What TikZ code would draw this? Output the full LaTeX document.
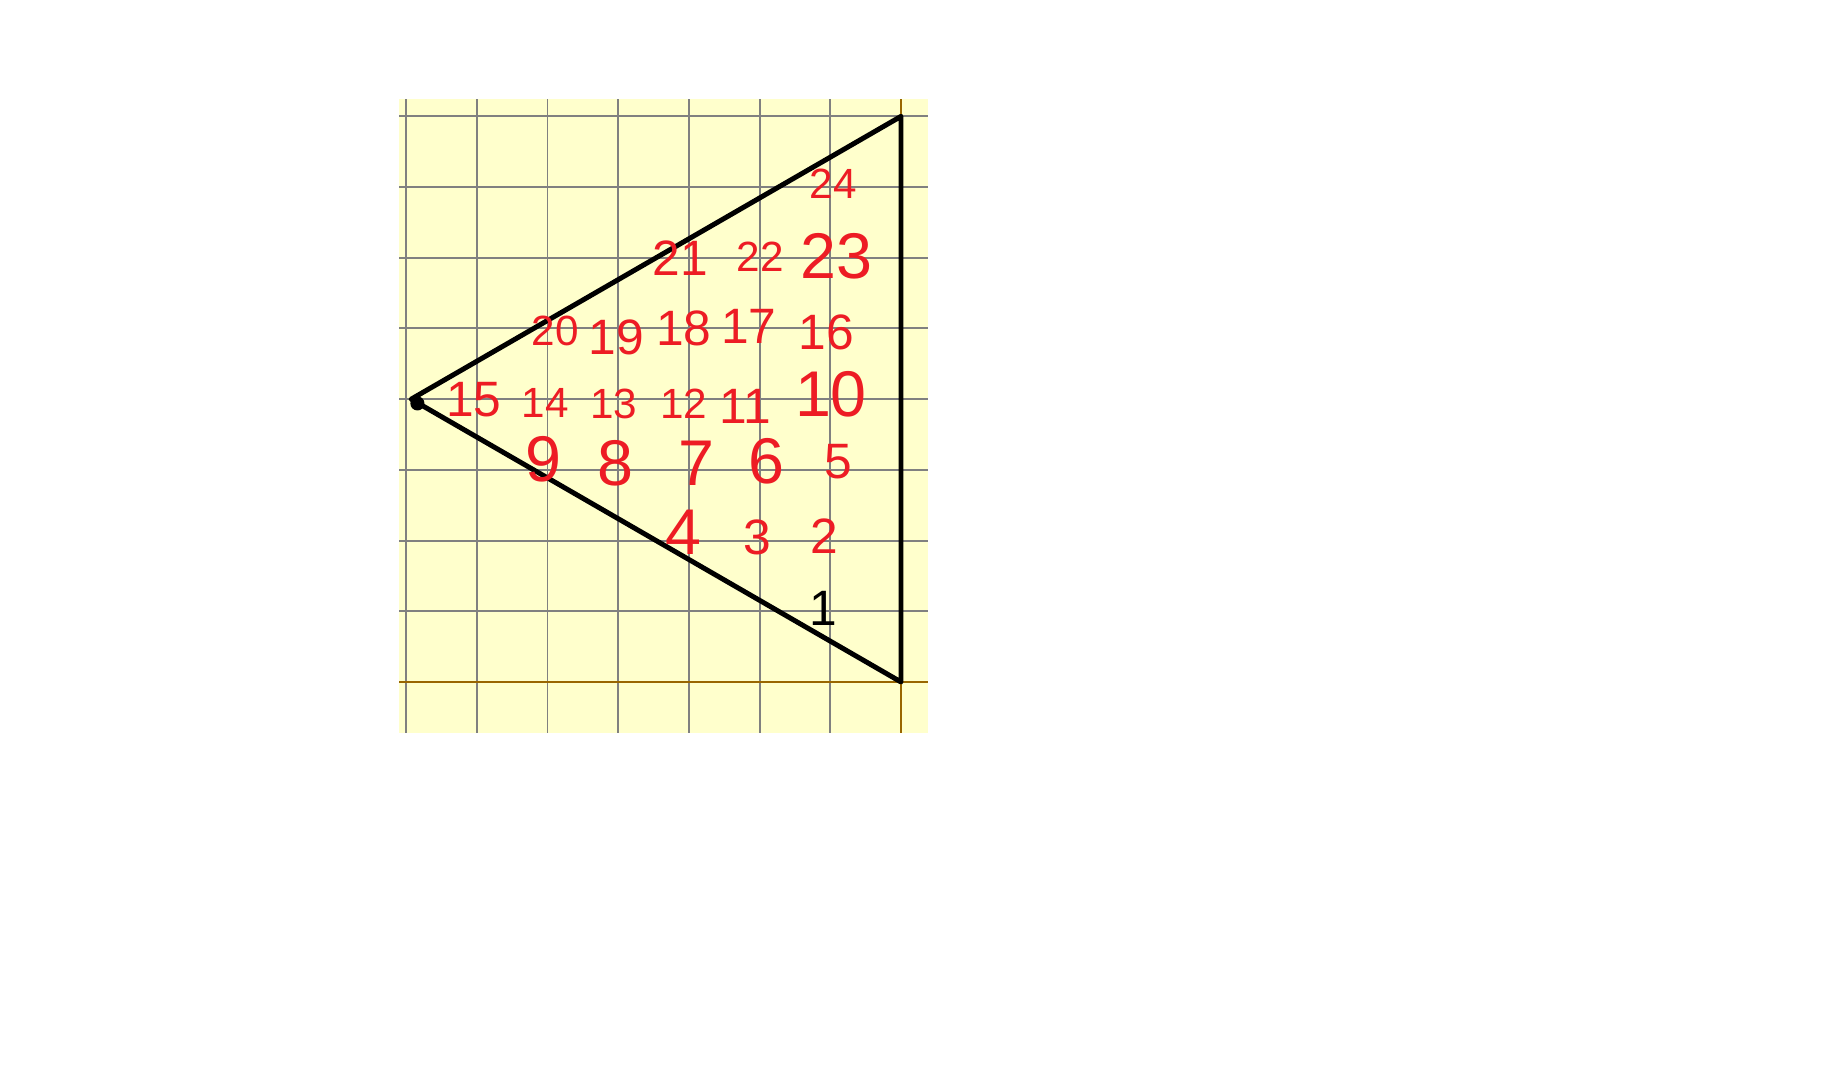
\documentclass[tikz,border=0pt]{standalone}
\usepackage{fontspec}
\setmainfont{Liberation Sans}
\usepackage{xcolor}
\usetikzlibrary{positioning}

\definecolor{paper}{HTML}{FFFFCC}
\definecolor{gridgray}{HTML}{808080}
\definecolor{axisbrown}{HTML}{996600}
\definecolor{inkred}{HTML}{ED1C24}

\tikzset{
  num/.style={text=inkred, inner sep=0pt, font=\fontsize{20}{24}\selectfont},
  small/.style={font=\fontsize{17}{20}\selectfont},
  big/.style={font=\fontsize{26}{30}\selectfont},
}

\begin{document}
\begin{tikzpicture}
	\useasboundingbox (-12.744,-5.545) rectangle (13.055,9.646);
	\fill[white] (-12.744,-5.545) rectangle (13.055,9.646);

	% paper and grid
	\fill[paper] (-7.10,-0.72) rectangle (0.38,8.25);
	\foreach \x in {-7,...,-1}
		\draw[gridgray, line width=0.8pt] (\x,-0.72) -- (\x,8.25);
	\foreach \y in {1,...,8}
		\draw[gridgray, line width=0.8pt] (-7.10,\y) -- (0.38,\y);
	\draw[axisbrown, line width=1.1pt] (-7.10,0) -- (0.38,0);
	\draw[axisbrown, line width=1.1pt] (0,-0.72) -- (0,8.25);

	% triangle
	\coordinate (apex) at (-6.928,4);
	\coordinate (low) at (0,0);
	\coordinate (top) at (0,8);
	\draw[line width=2pt, line join=round] (apex) -- (low) -- (top) -- cycle;
	\fill (-6.84,3.94) circle (0.1);

	% labels
	\begin{scope}[yshift=0.08cm]
	\node[num, text=black] (n1) at (-1.10,0.96) {1};
	\node[num] (n2) at (-1.08,1.98) {2};
	\node[num] (n3) at (-2.03,1.97) {3};
	\node[num, big] (n4) at (-3.07,2.04) {4};
	\node[num] (n5) at (-0.89,3.03) {5};
	\node[num, big] (n6) at (-1.90,3.04) {6};
	\node[num, big] (n7) at (-2.90,3.02) {7};
	\node[num, big] (n8) at (-4.04,3.02) {8};
	\node[num, big] (n9) at (-5.05,3.07) {9};
	\node[num, big] (n10) at (-0.99,3.99) {10};
	\node[num] (n11) at (-2.20,3.82) {11};
	\node[num, small] (n12) at (-3.07,3.86) {12};
	\node[num, small] (n13) at (-4.06,3.85) {13};
	\node[num, small] (n14) at (-5.03,3.87) {14};
	\node[num] (n15) at (-6.04,3.92) {15};
	\node[num] (n16) at (-1.06,4.86) {16};
	\node[num] (n17) at (-2.15,4.95) {17};
	\node[num] (n18) at (-3.07,4.92) {18};
	\node[num] (n19) at (-4.03,4.79) {19};
	\node[num, small] (n20) at (-4.89,4.88) {20};
	\node[num] (n21) at (-3.12,5.91) {21};
	\node[num, small] (n22) at (-1.99,5.93) {22};
	\node[num, big] (n23) at (-0.91,5.94) {23};
	\node[num, small] (n24) at (-0.96,6.97) {24};
	\end{scope}
\end{tikzpicture}
\end{document}
